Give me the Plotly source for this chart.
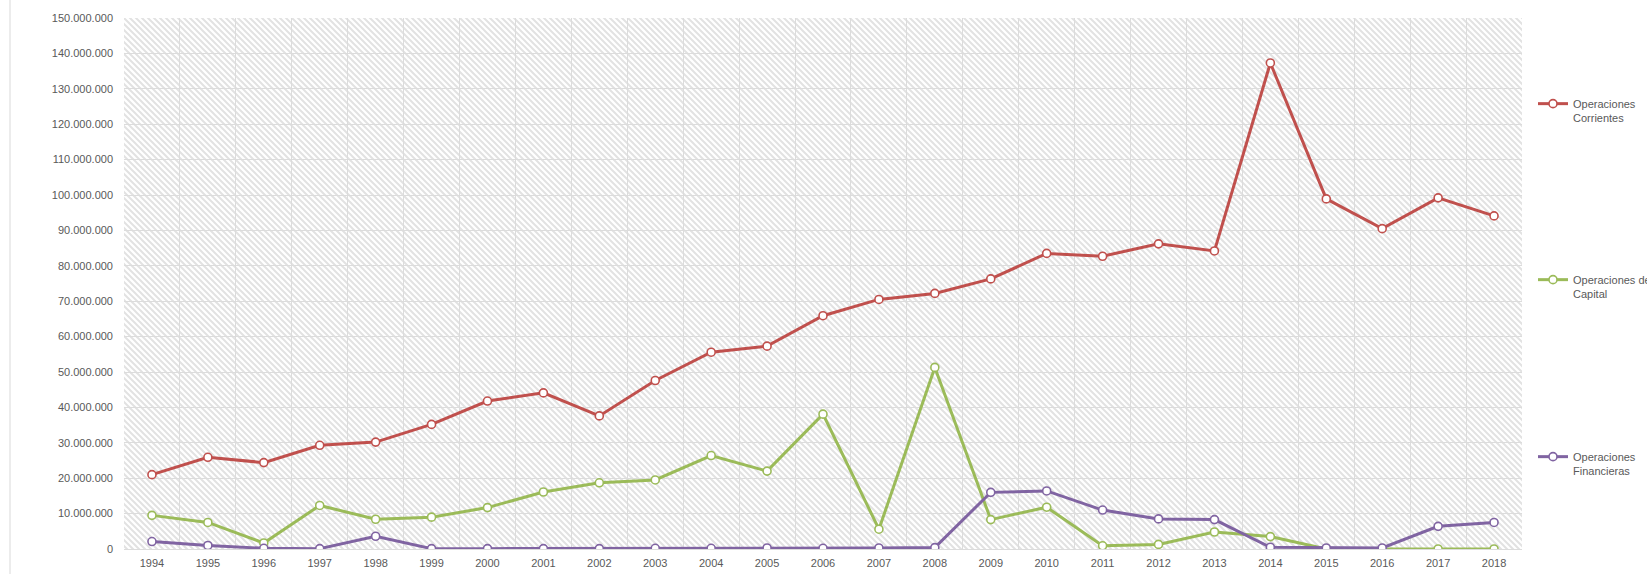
import base64
import plotly.graph_objects as go

years = [str(y) for y in range(1994, 2019)]

corrientes_mill = [21.0, 25.9, 24.4, 29.3, 30.2, 35.2, 41.8, 44.1, 37.6, 47.6,
                   55.6, 57.3, 65.9, 70.5, 72.2, 76.3, 83.5, 82.7, 86.2, 84.2,
                   137.3, 98.9, 90.5, 99.2, 94.1]
capital_mill = [9.5, 7.5, 1.7, 12.3, 8.4, 9.0, 11.7, 16.1, 18.7, 19.5,
                26.4, 22.0, 38.1, 5.6, 51.3, 8.3, 11.8, 0.9, 1.3, 4.8,
                3.5, 0.0, 0.0, 0.0, 0.0]
financieras_mill = [2.1, 1.0, 0.2, 0.1, 3.6, 0.1, 0.1, 0.1, 0.1, 0.2,
                    0.2, 0.3, 0.2, 0.3, 0.4, 16.0, 16.4, 11.0, 8.5, 8.3,
                    0.5, 0.3, 0.3, 6.4, 7.5]

series_names = ["Operaciones<br>Corrientes", "Operaciones de<br>Capital", "Operaciones<br>Financieras"]
series_colors = ["#C0504D", "#9BBB59", "#8064A2"]
series_values = [
    [v * 1e6 for v in corrientes_mill],
    [v * 1e6 for v in capital_mill],
    [v * 1e6 for v in financieras_mill],
]

W, H = 1647, 574
L, R, T, B = 124, 125, 18, 25
PW, PH = W - L - R, H - T - B

FONT = "Liberation Sans, Arial, sans-serif"
TXT = "#595959"
GRID = "#dcdcdc"

# diagonal hatch background for the plot area
svg = (
    f'<svg xmlns="http://www.w3.org/2000/svg" width="{PW}" height="{PH}" viewBox="0 0 {PW} {PH}">'
    '<defs><pattern id="h" width="6" height="6" patternUnits="userSpaceOnUse">'
    '<path d="M-3,-3 L9,9 M-3,3 L3,9 M3,-3 L9,3" stroke="#e2e2e2" stroke-width="2"/>'
    '</pattern></defs>'
    f'<rect width="{PW}" height="{PH}" fill="#ffffff"/>'
    f'<rect width="{PW}" height="{PH}" fill="url(#h)"/>'
    '</svg>'
)
svg_uri = "data:image/svg+xml;base64," + base64.b64encode(svg.encode()).decode()

fig = go.Figure()
legend_ids = ["legend", "legend2", "legend3"]
for name, color, vals, lg in zip(series_names, series_colors, series_values, legend_ids):
    fig.add_trace(go.Scatter(
        x=years, y=vals, name=name, mode="lines+markers",
        line=dict(color=color, width=3),
        marker=dict(symbol="circle", size=8, color="#ffffff",
                    line=dict(color=color, width=1.6)),
        legend=lg,
    ))

first_line_centers = [101, 277, 454]
legend_common = dict(
    font=dict(family=FONT, size=11, color=TXT),
    bgcolor="rgba(0,0,0,0)", borderwidth=0,
    itemwidth=30, valign="top",
    xanchor="left", yanchor="top",
    x=(1533 - L) / PW,
)

layout_legends = {}
for lg, cy in zip(legend_ids, first_line_centers):
    d = dict(legend_common)
    d["y"] = 1 - (cy - 11 - T) / PH
    layout_legends[lg] = d

fig.update_layout(
    width=W, height=H,
    margin=dict(l=L, r=R, t=T, b=B, pad=0, autoexpand=False),
    paper_bgcolor="#ffffff",
    plot_bgcolor="#ffffff",
    separators=",.",
    showlegend=True,
    font=dict(family=FONT, size=11, color=TXT),
    xaxis=dict(
        type="category", range=[-0.5, 24.5],
        showgrid=True, gridcolor=GRID, gridwidth=1,
        tickson="boundaries", ticks="",
        showline=False, zeroline=False,
        tickfont=dict(family=FONT, size=11, color=TXT),
        ticklabelstandoff=6,
        automargin=False,
    ),
    yaxis=dict(
        range=[0, 150e6], dtick=10e6, tick0=0,
        tickformat=",d",
        showgrid=True, gridcolor=GRID, gridwidth=1,
        zeroline=True, zerolinecolor=GRID, zerolinewidth=1,
        showline=False, ticks="",
        tickfont=dict(family=FONT, size=11, color=TXT),
        ticklabelstandoff=10,
        automargin=False,
    ),
    images=[dict(
        source=svg_uri, xref="paper", yref="paper",
        x=0, y=1, sizex=1, sizey=1, xanchor="left", yanchor="top",
        sizing="stretch", layer="below",
    )],
    shapes=[dict(
        type="line", xref="paper", yref="paper",
        x0=(10 - L) / PW, x1=(10 - L) / PW,
        y0=-B / PH, y1=1 + T / PH,
        line=dict(color="#d9d9d9", width=1),
    )],
    **layout_legends,
)

fig.write_html(
    "out.html",
    config={"displayModeBar": False},
    post_script="document.body.style.margin='0';document.body.style.overflow='hidden';",
)
